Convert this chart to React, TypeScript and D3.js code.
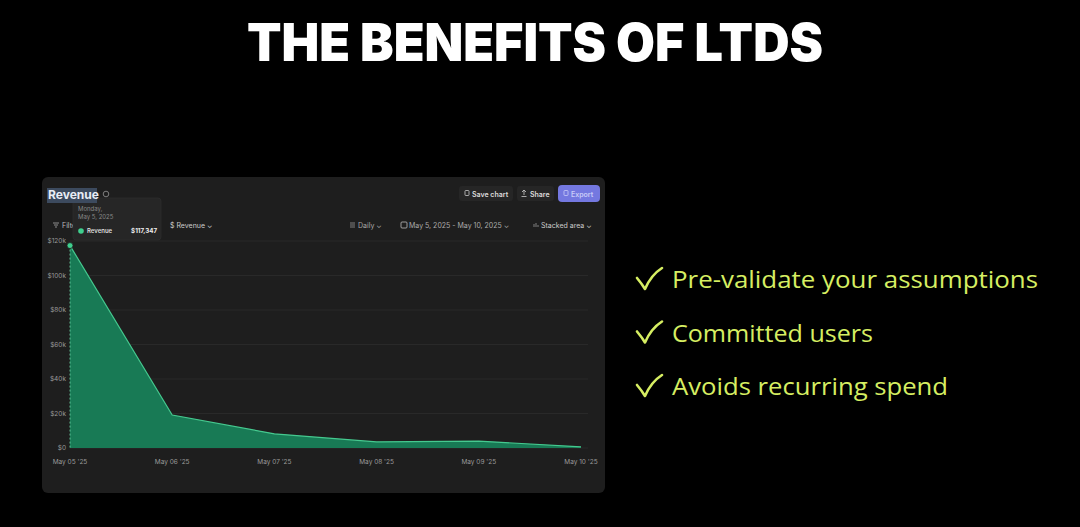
import React from "react";
import * as d3 from "d3";

const dates = ["May 05 '25", "May 06 '25", "May 07 '25", "May 08 '25", "May 09 '25", "May 10 '25"];
const revenue = [117347, 19100, 8200, 3500, 4000, 700];
const yTicks = [0, 20000, 40000, 60000, 80000, 100000, 120000];
const yTickLabels = ["$0", "$20k", "$40k", "$60k", "$80k", "$100k", "$120k"];
const benefits = ["Pre-validate your assumptions", "Committed users", "Avoids recurring spend"];
const benefitWidths = [366, 201, 276];

const W = 1080, H = 527;
const UI = "Inter, 'Noto Sans', sans-serif";

export default function App() {
  const x = d3.scalePoint<string>().domain(dates).range([70, 581]);
  const y = d3.scaleLinear().domain([0, 120000]).range([448, 241]);
  const data = dates.map((d, i) => ({ d, v: revenue[i] }));
  const area = d3.area<{ d: string; v: number }>().x(p => x(p.d)!).y0(y(0)).y1(p => y(p.v));
  const line = d3.line<{ d: string; v: number }>().x(p => x(p.d)!).y(p => y(p.v));
  const x0 = x(dates[0])!, yv0 = y(revenue[0]);

  const check = (cx: number, cy: number) =>
    `M${cx},${cy} Q${cx + 5},${cy + 6} ${cx + 8},${cy + 11} Q${cx + 14},${cy - 3} ${cx + 25},${cy - 10}`;

  return (
    <div style={{ position: "absolute", left: 0, top: 0, width: W, height: H, background: "#000" }}>
      <svg width={W} height={H} style={{ display: "block" }}>
        <rect width={W} height={H} fill="#000" />
        <text x={535} y={61} textAnchor="middle" fill="#fff" fontFamily="Inter, Lato, 'DejaVu Sans', sans-serif"
          fontWeight={900} fontSize={52} textLength={576} lengthAdjust="spacingAndGlyphs">THE BENEFITS OF LTDS</text>

        {/* panel */}
        <rect x={42} y={177} width={563} height={316} rx={6} fill="#1e1e1e" />

        {/* buttons */}
        <rect x={459} y={186} width={54} height={15} rx={3} fill="#262626" />
        <rect x={465} y={190.5} width={4} height={5} rx={0.8} fill="none" stroke="#ccc" strokeWidth={0.8} />
        <text x={472} y={196.5} fill="#ddd" fontFamily={UI} fontWeight={600} fontSize={7}>Save chart</text>
        <rect x={517} y={186} width={37} height={15} rx={3} fill="#262626" />
        <path d="M524,190 v5 M522,192 l2,-2 l2,2 M521.5,196.5 h5" stroke="#ccc" strokeWidth={0.8} fill="none" />
        <text x={530} y={196.5} fill="#ddd" fontFamily={UI} fontWeight={600} fontSize={7}>Share</text>
        <rect x={558} y={185} width={42} height={17} rx={4} fill="#7478e0" />
        <rect x={564} y={190.5} width={4} height={5} rx={0.8} fill="none" stroke="#c9ccf8" strokeWidth={0.8} />
        <text x={571} y={196.5} fill="#c9ccf8" fontFamily={UI} fontWeight={600} fontSize={7}>Export</text>

        {/* toolbar */}
        <path d="M53,223 h6 M54,225 h4 M55,227 h2" stroke="#aaa" strokeWidth={0.8} />
        <text x={62} y={228} fill="#bbb" fontFamily={UI} fontSize={7}>Filters</text>
        <text x={170} y={228} fill="#ccc" fontFamily={UI} fontSize={7}>$  Revenue  ⌄</text>
        <path d="M350,223 h5 M350,225 h5 M350,227 h5" stroke="#aaa" strokeWidth={0.7} />
        <text x={358} y={228} fill="#aaa" fontFamily={UI} fontSize={7}>Daily  ⌄</text>
        <rect x={401} y={222} width={6} height={6} rx={1} fill="none" stroke="#bbb" strokeWidth={0.8} />
        <text x={409} y={228} fill="#aaa" fontFamily={UI} fontSize={7}>May 5, 2025 - May 10, 2025  ⌄</text>
        <path d="M534,227 v-3 M536,227 v-4 M538,227 v-2" stroke="#aaa" strokeWidth={0.7} />
        <text x={541} y={228} fill="#ccc" fontFamily={UI} fontSize={7}>Stacked area  ⌄</text>

        {/* grid */}
        {yTicks.map(t => (
          <line key={t} x1={70} x2={588} y1={y(t)} y2={y(t)} stroke="#2c2c2c" strokeWidth={0.8} />
        ))}
        {yTicks.map((t, i) => (
          <text key={"l" + t} x={66} y={y(t) + 2} textAnchor="end" fill="#9a9a9a" fontFamily={UI} fontSize={6.5}>{yTickLabels[i]}</text>
        ))}
        {dates.map(d => (
          <text key={d} x={x(d)!} y={464} textAnchor="middle" fill="#9a9a9a" fontFamily={UI} fontSize={6.5}>{d}</text>
        ))}

        {/* area */}
        <path d={area(data)!} fill="#187a55" />
        <path d={line(data)!} fill="none" stroke="#45c98f" strokeWidth={1.2} />
        <line x1={x0} x2={x0} y1={yv0} y2={y(0)} stroke="#6fd8a8" strokeWidth={0.8} strokeDasharray="2,2" />
        <circle cx={x0} cy={yv0} r={3} fill="#3fcf8e" stroke="#1e1e1e" strokeWidth={0.8} />

        {/* tooltip */}
        <rect x={73} y={198} width={88} height={42} rx={3} fill="#262626" stroke="#303030" strokeWidth={0.6} />
        <text x={78} y={210.5} fill="#888" fontFamily={UI} fontSize={6}>Monday,</text>
        <text x={78} y={219} fill="#888" fontFamily={UI} fontSize={6}>May 5, 2025</text>
        <circle cx={81} cy={231} r={2.8} fill="#3fcf8e" />
        <text x={87} y={233} fill="#ddd" fontFamily={UI} fontWeight={600} fontSize={6}>Revenue</text>
        <text x={157} y={233} textAnchor="end" fill="#eee" fontFamily={UI} fontWeight={700} fontSize={6.2}>$117,347</text>

        {/* title (selected) */}
        <rect x={47} y={188} width={50} height={15} fill="#3c4a5e" />
        <text x={48} y={199} fill="#e8edf5" fontFamily={UI} fontWeight={700} fontSize={12}>Revenue</text>
        <circle cx={106} cy={194} r={2.8} fill="none" stroke="#888" strokeWidth={0.9} />

        {/* benefits */}
        {benefits.map((b, i) => {
          const by = 288 + i * 53.5;
          return (
            <g key={b}>
              <path d={check(637, by - 10)} fill="none" stroke="#d6ee62" strokeWidth={2.6} strokeLinecap="round" strokeLinejoin="round" />
              <text x={672} y={by} fill="#d6ee62" fontFamily="'Open Sans', Lato, sans-serif" fontWeight={400} fontSize={24}
                textLength={benefitWidths[i]} lengthAdjust="spacingAndGlyphs">{b}</text>
            </g>
          );
        })}
      </svg>
    </div>
  );
}
